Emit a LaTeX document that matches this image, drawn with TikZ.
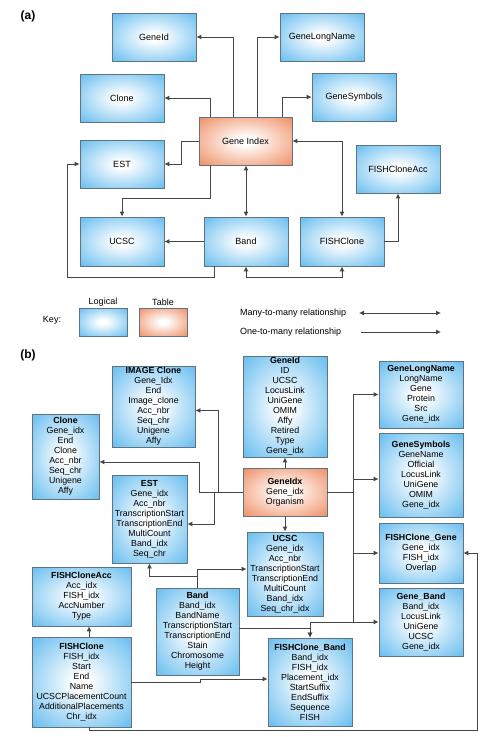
\documentclass[tikz,border=0pt]{standalone}
\usepackage{fontspec}
\setmainfont{Liberation Sans}
\usetikzlibrary{arrows.meta}
\definecolor{logicalblue}{RGB}{110,192,240}
\definecolor{tablesalmon}{RGB}{240,148,108}
\definecolor{boxedge}{RGB}{95,115,128}
\definecolor{linkgray}{RGB}{70,70,70}
\pgfdeclareradialshading{logicalglow}{\pgfpoint{0bp}{0bp}}{color(0bp)=(white); color(4bp)=(white); color(34bp)=(logicalblue); color(50bp)=(logicalblue)}
\pgfdeclareradialshading{tableglow}{\pgfpoint{0bp}{0bp}}{color(0bp)=(white); color(4bp)=(white); color(34bp)=(tablesalmon); color(50bp)=(tablesalmon)}
\tikzstyle{logical} = [rectangle, draw=boxedge, line width=0.8pt,
                       shading=logicalglow, inner sep=1pt, align=center,
                       minimum width=84pt, minimum height=48pt]
\tikzstyle{tablebox} = [logical, shading=tableglow]
\tikzstyle{fields} = [font=\fontsize{8.8}{10}\selectfont]
\tikzstyle{label} = [inner sep=0pt, font=\bfseries\fontsize{12}{14}\selectfont]
\tikzstyle{arrow} = [draw=linkgray, line width=0.9pt, ->, >={Latex[length=5pt, width=5pt]}]

\begin{document}
\begin{tikzpicture}[x=1pt, y=-1pt, font=\fontsize{9}{10.8}\selectfont]

        \useasboundingbox (0,0) rectangle (500,737);

        % (a) overview
        \node (LabelA) [label] at (28,16) {(a)};

        \node (GeneId) [logical] at (154,37) {GeneId};
        \node (GeneLongName) [logical] at (322,37) {GeneLongName};
        \node (Clone) [logical] at (122,98) {Clone};
        \node (GeneSymbols) [logical] at (354,97) {GeneSymbols};
        \node (GeneIndex) [tablebox, minimum width=93pt] at (245.5,141) {Gene Index};
        \node (EST) [logical] at (122,164) {EST};
        \node (FISHCloneAcc) [logical] at (398,169) {FISHCloneAcc};
        \node (UCSC) [logical, minimum height=49pt] at (122,241.5) {UCSC};
        \node (Band) [logical, minimum height=49pt] at (246,241.5) {Band};
        \node (FISHClone) [logical, minimum height=49pt] at (342,241.5) {FISHClone};

        \draw [arrow] ([xshift=-12.5pt]GeneIndex.north) |- (GeneId);
        \draw [arrow] ([xshift=-35.5pt]GeneIndex.north) |- (Clone);
        \draw [arrow] ([xshift=11.5pt]GeneIndex.north) |- (GeneLongName);
        \draw [arrow] ([xshift=36.5pt]GeneIndex.north) |- (GeneSymbols);
        \draw [arrow, <->] (GeneIndex.east) -| (FISHClone);
        \draw [arrow] (GeneIndex.west) -- ++(-17,0) |- (EST);
        \draw [arrow] ([xshift=-35.5pt]GeneIndex.south) -- ++(0,33) -| (UCSC);
        \draw [arrow, <->] (Band.north |- GeneIndex.south) -- (Band.north);
        \draw [arrow] (Band) -- (UCSC);
        \draw [arrow] ([xshift=-32pt]Band.south) -- ++(0,11) -| ([xshift=-12pt]EST.west) -- (EST.west);
        \draw [arrow, <->] (Band.south) -- ++(0,11) -| (FISHClone.south);
        \draw [arrow] (FISHClone.east) -| (FISHCloneAcc);

        % key
        \node (KeyWord) at (52,320) {Key:};
        \node (KeyLogical) [logical, minimum width=48pt, minimum height=28pt] at (103,322) {};
        \node (KeyTable) [tablebox, minimum width=48pt, minimum height=28pt, right of = KeyLogical, node distance=60pt] {};
        \node (LogicalText) [above of = KeyLogical, node distance=20pt] {Logical};
        \node (TableText) [above of = KeyTable, node distance=20pt] {Table};

        \node (ManyText) [anchor=west, inner sep=0pt] at (240,313) {Many-to-many relationship};
        \node (OneText) [anchor=west, inner sep=0pt] at (240,332) {One-to-many relationship};
        \coordinate (ManyFrom) at (359,313);
        \coordinate (ManyTo) at (441,313);
        \coordinate (OneFrom) at (361,332);
        \coordinate (OneTo) at (441,332);
        \draw [arrow, <->] (ManyFrom) -- (ManyTo);
        \draw [arrow] (OneFrom) -- (OneTo);

        % (b) tables
        \node (LabelB) [label] at (28,355) {(b)};

        \node (ImageClone) [logical, fields, minimum width=83pt, minimum height=81pt] at (153.5,406.5)
            {\textbf{IMAGE Clone}\\Gene\_Idx\\End\\Image\_clone\\Acc\_nbr\\Seq\_chr\\Unigene\\Affy};
        \node (CloneB) [logical, fields, minimum width=67pt, minimum height=85pt] at (65.5,456.5)
            {\textbf{Clone}\\Gene\_idx\\End\\Clone\\Acc\_nbr\\Seq\_chr\\Unigene\\Affy};
        \node (GeneIdB) [logical, fields, minimum width=84pt, minimum height=101pt] at (285,406.5)
            {\textbf{GeneId}\\ID\\UCSC\\LocusLink\\UniGene\\OMIM\\Affy\\Retired\\Type\\Gene\_idx};
        \node (GeneLongNameB) [logical, fields, minimum width=84pt, minimum height=67pt] at (421,394.5)
            {\textbf{GeneLongName}\\LongName\\Gene\\Protein\\Src\\Gene\_idx};
        \node (GeneSymbolsB) [logical, fields, minimum width=84pt, minimum height=84pt] at (421,475)
            {\textbf{GeneSymbols}\\GeneName\\Official\\LocusLink\\UniGene\\OMIM\\Gene\_idx};
        \node (GeneIdx) [tablebox, fields, minimum width=84pt, minimum height=48pt] at (285,492)
            {\textbf{GeneIdx}\\Gene\_idx\\Organism};
        \node (ESTB) [logical, fields, minimum width=75pt, minimum height=88pt] at (149.5,519)
            {\textbf{EST}\\Gene\_idx\\Acc\_nbr\\TranscriptionStart\\TranscriptionEnd\\MultiCount\\Band\_idx\\Seq\_chr};
        \node (UCSCB) [logical, fields, minimum width=76pt, minimum height=84pt] at (285,574)
            {\textbf{UCSC}\\Gene\_idx\\Acc\_nbr\\TranscriptionStart\\TranscriptionEnd\\MultiCount\\Band\_idx\\Seq\_chr\_idx};
        \node (FISHCloneGene) [logical, fields, minimum width=84pt, minimum height=60pt] at (421,553)
            {\textbf{FISHClone\_Gene}\\Gene\_idx\\FISH\_idx\\Overlap};
        \node (GeneBand) [logical, fields, minimum width=84pt, minimum height=68pt] at (421,622)
            {\textbf{Gene\_Band}\\Band\_idx\\LocusLink\\UniGene\\UCSC\\Gene\_idx};
        \node (FISHCloneAccB) [logical, fields, minimum width=99pt, minimum height=59pt] at (81.5,596.5)
            {\textbf{FISHCloneAcc}\\Acc\_idx\\FISH\_idx\\AccNumber\\Type};
        \node (BandB) [logical, fields, minimum width=83pt, minimum height=87pt] at (197.5,631.5)
            {\textbf{Band}\\Band\_idx\\BandName\\TranscriptionStart\\TranscriptionEnd\\Stain\\Chromosome\\Height};
        \node (FISHCloneB) [logical, fields, minimum width=99pt, minimum height=90pt] at (81.5,682)
            {\textbf{FISHClone}\\FISH\_idx\\Start\\End\\Name\\UCSCPlacementCount\\AdditionalPlacements\\Chr\_idx};
        \node (FISHCloneBand) [logical, fields, minimum width=84pt, minimum height=88pt] at (310,682)
            {\textbf{FISHClone\_Band}\\Band\_idx\\FISH\_idx\\Placement\_idx\\StartSuffix\\EndSuffix\\Sequence\\FISH};

        \draw [arrow] (GeneIdx) -- (GeneIdB);
        \draw [arrow] (GeneIdx) -- (UCSCB);
        \draw [arrow] (GeneIdx.east) -- ++(26,0) |- (GeneLongNameB);
        \draw [arrow] (GeneIdx.east) -- ++(26,0) |- ([yshift=-4pt]GeneSymbolsB.west);
        \draw [arrow] (GeneIdx.east) -- ++(26,0) |- (FISHCloneGene);
        \draw [arrow] (GeneIdx.east) -- ++(26,0) |- (GeneBand);
        \draw [arrow] (GeneIdx.east) -- ++(26,0) -- ++(0,130) -| (FISHCloneBand);
        \draw [arrow] (GeneIdx.west) -- ++(-24,0) |- ([yshift=-4pt]ImageClone.east);
        \draw [arrow] (GeneIdx.west) -- ++(-43,0) |- ([yshift=-5.5pt]CloneB.east);
        \draw [arrow] (GeneIdx.west) -- ++(-28,0) |- ([yshift=-5pt]ESTB.east);
        \draw [arrow] (BandB.north) -- ++(0,-11) -| (ESTB.south);
        \draw [arrow] (BandB.north) |- ([yshift=5pt]UCSCB.west);
        \draw [arrow] ([yshift=3.5pt]BandB.east) -| (FISHCloneBand);
        \draw [arrow] ([xshift=7.5pt]FISHCloneB.north) -- ([xshift=7.5pt]FISHCloneAccB.south);
        \draw [arrow] (FISHCloneB.east) -- ++(69,0) -- ++(0,-3) -- ([yshift=3pt]FISHCloneBand.west);
        \draw [arrow] ([xshift=7.5pt]FISHCloneB.south) -- ++(0,3) -| ([xshift=14pt]FISHCloneGene.east) -- (FISHCloneGene.east);

\end{tikzpicture}
\end{document}
